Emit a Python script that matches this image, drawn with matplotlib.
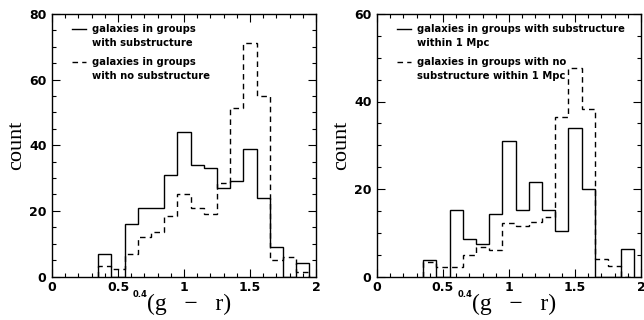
import matplotlib
matplotlib.use("Agg")
import matplotlib.pyplot as plt
from matplotlib.ticker import MultipleLocator
from matplotlib.font_manager import FontProperties

edges = [0.35, 0.45, 0.55, 0.65, 0.75, 0.85, 0.95, 1.05, 1.15, 1.25, 1.35, 1.45, 1.55, 1.65, 1.75, 1.85, 1.95]

left_solid = [7, 0, 16, 21, 21, 31, 44, 34, 33, 27, 29, 39, 24, 9, 0, 4]
left_dashed = [3.3, 2.3, 7, 12, 13.5, 18.5, 25, 21, 19, 28.5, 51.5, 71.2, 55, 5, 6, 1.5]
right_solid = [3.7, 0, 15.2, 8.5, 7.5, 14.2, 31, 15.2, 21.7, 15.2, 10.3, 33.9, 20, 0, 0, 6.3]
right_dashed = [3.3, 2.1, 2.1, 5, 6.8, 6, 12.3, 11.5, 12.4, 13.6, 36.4, 47.7, 38.2, 4, 2.5, 0]

left_labels = [["galaxies in groups", "with substructure"],
               ["galaxies in groups", "with no substructure"]]
right_labels = [["galaxies in groups with substructure", "within 1 Mpc"],
                ["galaxies in groups with no", "substructure within 1 Mpc"]]
left_ylim = 80
right_ylim = 60
xticks = [0, 0.5, 1, 1.5, 2]
xticklabels = ["0", "0.5", "1", "1.5", "2"]

fig = plt.figure(figsize=(6.44, 3.2), dpi=100)
axL = fig.add_axes([52/644, 43.5/320, 264/644, 262.5/320])
axR = fig.add_axes([377/644, 43.5/320, 264/644, 262.5/320])

tickfp = FontProperties(family="DejaVu Sans", weight="bold", size=9)

def style(ax, ymax, solid, dashed, labels):
    ax.stairs(solid, edges, baseline=0, color="black", lw=1.0)
    ax.stairs(dashed, edges, baseline=0, color="black", lw=1.0, linestyle=(0, (4, 3)))
    ax.set_xlim(0, 2)
    ax.set_ylim(0, ymax)
    ax.set_xticks(xticks)
    ax.set_xticklabels(xticklabels)
    ax.xaxis.set_minor_locator(MultipleLocator(0.1))
    ax.yaxis.set_major_locator(MultipleLocator(20))
    ax.yaxis.set_minor_locator(MultipleLocator(5))
    ax.tick_params(which="both", direction="in", top=True, right=True, width=0.8)
    ax.tick_params(which="major", length=6)
    ax.tick_params(which="minor", length=3)
    ax.tick_params(axis="x", pad=3)
    ax.tick_params(axis="y", pad=4)
    for lab in ax.get_xticklabels() + ax.get_yticklabels():
        lab.set_fontproperties(tickfp)
    for sp in ax.spines.values():
        sp.set_linewidth(1.0)
    ax.set_ylabel("count", family="Liberation Serif", size=16, labelpad=2)
    # x label: superscript 0.4 followed by (g - r)
    ax.text(0.518, -0.105, "(g   \u2212   r)", family="Liberation Serif", size=17,
            transform=ax.transAxes, ha="center", va="center")
    ax.text(0.362, -0.068, "0.4", family="DejaVu Sans", weight="bold", size=6,
            transform=ax.transAxes, ha="right", va="center")
    # legend
    tf = dict(family="DejaVu Sans", weight="bold", size=7.2, transform=ax.transAxes, va="center", ha="left")
    x0, x1, xt = 20/264, 34/264, 40/264
    ys = [(276.5-29)/262.5, (276.5-43)/262.5, (276.5-62)/262.5, (276.5-76)/262.5]
    ax.plot([x0, x1], [ys[0], ys[0]], color="black", lw=1.0, transform=ax.transAxes)
    ax.plot([x0, x1], [ys[2], ys[2]], color="black", lw=1.0, linestyle=(0, (4, 3)), transform=ax.transAxes)
    ax.text(xt, ys[0], labels[0][0], **tf)
    ax.text(xt, ys[1], labels[0][1], **tf)
    ax.text(xt, ys[2], labels[1][0], **tf)
    ax.text(xt, ys[3], labels[1][1], **tf)

style(axL, left_ylim, left_solid, left_dashed, left_labels)
style(axR, right_ylim, right_solid, right_dashed, right_labels)

fig.savefig("out.png", dpi=100)
